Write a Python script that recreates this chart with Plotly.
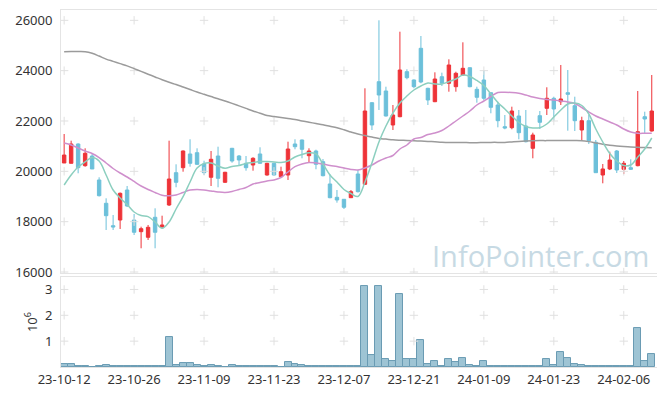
import plotly.graph_objects as go

dates = [
    "23-10-12", "23-10-13", "23-10-16", "23-10-17", "23-10-18", "23-10-19", "23-10-20",
    "23-10-23", "23-10-24", "23-10-25", "23-10-26", "23-10-27", "23-10-30", "23-10-31",
    "23-11-01", "23-11-02", "23-11-03", "23-11-06", "23-11-07", "23-11-08", "23-11-09",
    "23-11-10", "23-11-13", "23-11-14", "23-11-15", "23-11-16", "23-11-17", "23-11-20",
    "23-11-21", "23-11-22", "23-11-23", "23-11-24", "23-11-27", "23-11-28", "23-11-29",
    "23-11-30", "23-12-01", "23-12-04", "23-12-05", "23-12-06", "23-12-07", "23-12-08",
    "23-12-11", "23-12-12", "23-12-13", "23-12-14", "23-12-15", "23-12-18", "23-12-19",
    "23-12-20", "23-12-21", "23-12-22", "23-12-26", "23-12-27", "23-12-28", "24-01-02",
    "24-01-03", "24-01-04", "24-01-05", "24-01-08", "24-01-09", "24-01-10", "24-01-11",
    "24-01-12", "24-01-15", "24-01-16", "24-01-17", "24-01-18", "24-01-19", "24-01-22",
    "24-01-23", "24-01-24", "24-01-25", "24-01-26", "24-01-29", "24-01-30", "24-01-31",
    "24-02-01", "24-02-02", "24-02-05", "24-02-06", "24-02-07", "24-02-08", "24-02-13",
    "24-02-14",
]

open_ = [20331, 20319, 21086, 20224, 20609, 19656, 18730, 17840, 18066, 19258,
         18066, 17602, 17379, 18174, 17788, 18662, 19946, 20144, 20689, 20740,
         20291, 19763, 20609, 19564, 20915, 20609, 20319, 20251, 20689, 19854,
         20319, 19787, 19854, 21086, 21245, 20621, 20808, 20383, 19497, 18968,
         18889, 18952, 19894, 19484, 22727, 23561, 23192, 21841, 22170, 23960,
         23629, 24888, 23299, 22767, 23760, 23497, 23363, 23827, 24117, 23259,
         23629, 23124, 22635, 21773, 21734, 22198, 21801, 20915, 22210, 22504,
         22902, 22766, 23124, 22608, 21642, 22012, 21154, 19854, 20093, 20808,
         20081, 20144, 20224, 22170, 21602]
high = [21483, 21217, 21113, 20915, 20688, 19763, 18928, 18265, 19160, 19417,
        18305, 17800, 17868, 18531, 18237, 21217, 20279, 20830, 21273, 20915,
        20422, 20808, 20979, 19980, 20930, 20649, 20609, 20560, 20955, 20340,
        20340, 20184, 21177, 21273, 21260, 20915, 20860, 20490, 19882, 19258,
        18900, 19258, 20053, 23299, 22750, 26000, 23363, 22635, 25548, 24054,
        23650, 25377, 23320, 23934, 23920, 24451, 23958, 25126, 24130, 23363,
        24026, 23140, 22767, 22238, 22568, 22437, 22437, 21535, 22397, 23339,
        22965, 24225, 24026, 22965, 22170, 22238, 21245, 20291, 20780, 20847,
        20410, 20478, 23192, 22369, 23827]
low = [20331, 20319, 19922, 20184, 20093, 19000, 17669, 17669, 17709, 18580,
       17470, 16942, 17272, 16942, 17760, 18623, 19366, 19985, 20184, 20250,
       19854, 19417, 19366, 19540, 20343, 20252, 20025, 20025, 20300, 19830,
       19830, 19770, 19656, 20875, 20518, 20343, 20081, 19800, 18930, 18754,
       18503, 18940, 19160, 19460, 21642, 22437, 22180, 21642, 22150, 23656,
       23300, 23500, 22635, 22750, 23390, 23164, 23164, 23800, 23340, 22727,
       22834, 22306, 21749, 21670, 21670, 21273, 21150, 20518, 21682, 22238,
       22012, 22635, 21614, 21602, 21217, 21086, 19946, 19524, 20050, 19934,
       19894, 20053, 20200, 21511, 21580]
close = [20648, 21086, 20144, 20716, 20093, 19032, 18237, 17788, 19127, 18623,
         17578, 17721, 17776, 17578, 17868, 19695, 19564, 20808, 20319, 20279,
         19946, 20478, 19723, 19962, 20410, 20450, 20144, 20518, 20319, 20319,
         19854, 19985, 20887, 20978, 20875, 20808, 20279, 19826, 18952, 18861,
         18571, 19191, 19191, 22397, 21841, 23033, 22198, 22238, 24026, 23720,
         23363, 23549, 22834, 23668, 23497, 24225, 23895, 24093, 23363, 22941,
         22902, 22544, 22012, 21722, 22397, 21535, 21177, 21443, 21948, 22902,
         22476, 22874, 23061, 22012, 22012, 21217, 19946, 20093, 20450, 20053,
         20319, 20081, 21575, 22079, 22397]

ma5 = [19457, 19854, 20172, 20371, 20549, 20410, 19854, 19258, 18940, 18682,
       18384, 18245, 18198, 17987, 17737, 17987, 18503, 18992, 19576, 20132,
       20311, 20331, 20212, 20120, 20192, 20232, 20311, 20351, 20391, 20391,
       20371, 20351, 20410, 20569, 20669, 20740, 20689, 20291, 19854, 19576,
       19278, 19119, 19000, 19576, 20331, 21165, 21801, 22318, 22715, 22993,
       23231, 23390, 23509, 23470, 23470, 23561, 23668, 23827, 23768, 23609,
       23410, 23072, 22735, 22477, 22198, 21940, 21781, 21722, 21734, 21880,
       22159, 22437, 22675, 22715, 22616, 22278, 21682, 21165, 20709, 20410,
       20232, 20252, 20569, 20887, 21324]
ma20 = [21126, 21046, 20927, 20808, 20708, 20549, 20331, 20112, 19934, 19775,
        19596, 19417, 19278, 19159, 19048, 19028, 19060, 19159, 19258, 19278,
        19258, 19219, 19179, 19159, 19199, 19278, 19358, 19497, 19556, 19616,
        19656, 19755, 19974, 20184, 20291, 20351, 20331, 20291, 20232, 20192,
        20132, 20073, 20053, 20132, 20251, 20410, 20530, 20629, 20887, 21046,
        21285, 21344, 21463, 21523, 21622, 21801, 22000, 22198, 22397, 22635,
        22794, 22973, 23132, 23140, 23132, 23100, 23033, 22953, 22894, 22854,
        22834, 22794, 22755, 22695, 22536, 22357, 22198, 22079, 21960, 21841,
        21682, 21563, 21511, 21511, 21511]
ma120 = [24753, 24760, 24760, 24753, 24690, 24580, 24460, 24370, 24280, 24190,
         24080, 23970, 23860, 23750, 23640, 23540, 23450, 23350, 23250, 23150,
         23060, 22970, 22880, 22795, 22700, 22600, 22500, 22400, 22310, 22220,
         22180, 22140, 22100, 22060, 22000, 21950, 21900, 21850, 21790, 21730,
         21650, 21560, 21480, 21420, 21360, 21305, 21280, 21250, 21235, 21225,
         21215, 21200, 21190, 21175, 21160, 21150, 21150, 21145, 21140, 21140,
         21145, 21150, 21150, 21150, 21170, 21190, 21205, 21215, 21220, 21220,
         21225, 21225, 21220, 21220, 21215, 21180, 21130, 21080, 21040, 21010,
         20985, 20965, 20955, 20945, 20940]

volume = [0.13, 0.13, 0.05, 0.05, 0.015, 0.05, 0.09, 0.05, 0.05, 0.02,
          0.05, 0.02, 0.02, 0.02, 0.02, 1.14, 0.09, 0.17, 0.17, 0.09,
          0.02, 0.09, 0.05, 0.008, 0.09, 0.02, 0.02, 0.02, 0.05, 0.02,
          0.02, 0.01, 0.21, 0.13, 0.09, 0.05, 0.05, 0.05, 0.02, 0.02,
          0.02, 0.02, 0.02, 3.13, 0.48, 3.13, 0.29, 0.22, 2.84, 0.32,
          0.29, 1.06, 0.13, 0.22, 0.05, 0.29, 0.18, 0.36, 0.09, 0.05,
          0.22, 0.05, 0.05, 0.05, 0.05, 0.02, 0.05, 0.02, 0.05, 0.29,
          0.09, 0.56, 0.36, 0.13, 0.09, 0.05, 0.05, 0.05, 0.02, 0.02,
          0.02, 0.02, 1.49, 0.22, 0.52]
volume = [v * 1e6 for v in volume]

price_ticks = [16000, 18000, 20000, 22000, 24000, 26000]
price_ticktext = [str(p) for p in price_ticks]
vol_ticks = [1e6, 2e6, 3e6]
vol_ticktext = ["1", "2", "3"]
x_ticks = dates[::10]

RED = "#ee3338"
BLUE = "#6cc0da"
GRIDC = "#e0e0e0"
AXC = "#e4e4e4"
FONT = "Noto Sans"

fig = go.Figure()

# grid crosses
gx = [d for d in x_ticks for _ in price_ticks]
gy = [p for _ in x_ticks for p in price_ticks]
fig.add_trace(go.Scatter(x=gx, y=gy, mode="markers", xaxis="x", yaxis="y",
                         marker=dict(symbol="cross-thin", size=6,
                                     line=dict(color=GRIDC, width=1)),
                         hoverinfo="skip", showlegend=False))
gx2 = [d for d in x_ticks for _ in vol_ticks]
gy2 = [v for _ in x_ticks for v in vol_ticks]
fig.add_trace(go.Scatter(x=gx2, y=gy2, mode="markers", xaxis="x2", yaxis="y2",
                         marker=dict(symbol="cross-thin", size=6,
                                     line=dict(color=GRIDC, width=1)),
                         hoverinfo="skip", showlegend=False))

fig.add_trace(go.Candlestick(
    x=dates, open=open_, high=high, low=low, close=close,
    increasing=dict(line=dict(color=RED, width=1), fillcolor=RED),
    decreasing=dict(line=dict(color=BLUE, width=1), fillcolor=BLUE),
    xaxis="x", yaxis="y", showlegend=False))

fig.add_trace(go.Scatter(x=dates, y=ma120, mode="lines", xaxis="x", yaxis="y",
                         line=dict(color="#9b9b9b", width=1.5, shape="spline"),
                         showlegend=False))
fig.add_trace(go.Scatter(x=dates, y=ma20, mode="lines", xaxis="x", yaxis="y",
                         line=dict(color="#cf8fcc", width=1.5, shape="spline"),
                         showlegend=False))
fig.add_trace(go.Scatter(x=dates, y=ma5, mode="lines", xaxis="x", yaxis="y",
                         line=dict(color="#8ccfbf", width=1.5, shape="spline"),
                         showlegend=False))

fig.add_trace(go.Bar(x=dates, y=volume, xaxis="x2", yaxis="y2",
                     marker=dict(color="rgba(158,196,212,1)",
                                 line=dict(color="#6a9bb3", width=1)),
                     showlegend=False))

# The page body has an 8px default margin, so the figure is offset by 8px.
fig.update_layout(
    width=657, height=388,
    margin=dict(l=53, r=8, t=2, b=29),
    paper_bgcolor="white", plot_bgcolor="white",
    font=dict(family=FONT, size=13, color="#333333"),
    bargap=0,
    xaxis=dict(domain=[0, 1], anchor="y", type="category", categoryorder="array",
               categoryarray=dates, range=[-0.45, 84.75], showticklabels=False,
               showgrid=False, zeroline=False, showline=True, linecolor=AXC,
               mirror=True, rangeslider=dict(visible=False), automargin=False),
    yaxis=dict(domain=[0.2633, 1], range=[15960, 26410], tickvals=price_ticks,
               ticktext=price_ticktext,
               showgrid=False, zeroline=False, showline=True, linecolor=AXC,
               mirror=True, ticks="outside", ticklen=5, tickcolor="rgba(0,0,0,0)",
               automargin=False),
    xaxis2=dict(domain=[0, 1], anchor="y2", type="category", categoryorder="array",
                categoryarray=dates, range=[-0.45, 84.75], matches="x",
                tickvals=x_ticks, showgrid=False, zeroline=False,
                showline=True, linecolor=AXC, mirror=True,
                ticks="", automargin=False),
    yaxis2=dict(domain=[0, 0.252], range=[0, 3.48e6], tickvals=vol_ticks,
                ticktext=vol_ticktext, showgrid=False, zeroline=False,
                showline=True, linecolor=AXC, mirror=True,
                ticks="outside", ticklen=5, tickcolor="rgba(0,0,0,0)",
                automargin=False,
                title=dict(text="10<sup>6</sup>", standoff=4,
                           font=dict(size=13))),
    annotations=[dict(text="InfoPointer.com", xref="paper", yref="paper",
                      x=0.805, y=0.312, xanchor="center", yanchor="middle",
                      showarrow=False,
                      font=dict(family="Open Sans", size=29, color="#c7dae4"))],
)

fig.write_html("out.html")
